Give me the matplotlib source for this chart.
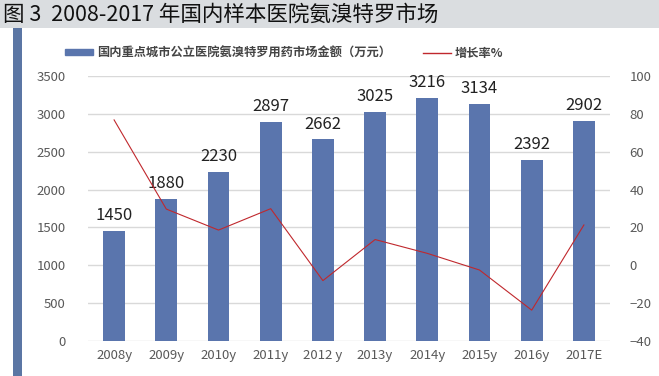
import matplotlib
matplotlib.use('Agg')
import matplotlib.pyplot as plt
import matplotlib.patches as mpatches
from matplotlib.lines import Line2D
import numpy as np

plt.rcParams['font.family'] = ['Noto Sans CJK SC', 'DejaVu Sans']

years = ['2008y', '2009y', '2010y', '2011y', '2012 y', '2013y', '2014y', '2015y', '2016y', '2017E']
market = [1450, 1880, 2230, 2897, 2662, 3025, 3216, 3134, 2392, 2902]
growth = [76.8, 29.7, 18.6, 29.9, -8.1, 13.6, 6.3, -2.5, -23.7, 21.3]

bar_color = '#5A75AD'
line_color = '#C0282D'
tick_color = '#595959'

fig = plt.figure(figsize=(6.59, 3.76), dpi=100)

# title band and left stripe
fig.patches.append(mpatches.Rectangle((0, 1 - 28/376), 1, 28/376, transform=fig.transFigure,
                                      facecolor='#DADDE0', edgecolor='none', zorder=0))
fig.patches.append(mpatches.Rectangle((13/659, 0), 9/659, 1 - 28/376, transform=fig.transFigure,
                                      facecolor='#5B76A4', edgecolor='none', zorder=0))
fig.text(3/659, 1 - 15/376, '图 3  2008-2017 年国内样本医院氨溴特罗市场', fontsize=15.5,
         va='center', ha='left', color='#111111')

ax = fig.add_axes([88/659, 1 - 341/376, 522/659, 265/376])
x = np.arange(len(years))
bars = ax.bar(x, market, width=0.42, color=bar_color, zorder=2)
for rect, v in zip(bars, market):
    ax.annotate(str(v), xy=(rect.get_x() + rect.get_width() / 2, v),
                xytext=(0, 5), textcoords='offset points',
                ha='center', va='bottom', fontsize=12, color='#222222')

ax.set_xlim(-0.5, len(years) - 0.5)
ax.set_ylim(0, 3500)
ax.set_yticks(np.arange(0, 3501, 500))
ax.grid(axis='y', color='#D9D9D9', linewidth=1, zorder=0)
ax.set_axisbelow(True)
for s in ax.spines.values():
    s.set_visible(False)
ax.tick_params(axis='both', length=0, labelsize=9.5, colors=tick_color)
ax.tick_params(axis='y', pad=16)
ax.set_xticks(x)
ax.set_xticklabels(years, fontstyle='italic')
ax.tick_params(axis='x', pad=6)

ax2 = ax.twinx()
ax2.plot(x, growth, color=line_color, linewidth=0.8, zorder=3)
ax2.set_ylim(-40, 100)
ax2.set_yticks(np.arange(-40, 101, 20))
for s in ax2.spines.values():
    s.set_visible(False)
ax2.tick_params(axis='y', length=0, labelsize=9.5, colors=tick_color, pad=14)

handles = [mpatches.Patch(color=bar_color), Line2D([0], [0], color=line_color, linewidth=1)]
labels = ['国内重点城市公立医院氨溴特罗用药市场金额（万元）', '增长率%']
fig.legend(handles, labels, loc='center left', bbox_to_anchor=(65/659, 1 - 53/376), ncol=2,
           frameon=False, handlelength=2.3, handleheight=0.45, handletextpad=0.3,
           columnspacing=2.6, borderpad=0, borderaxespad=0,
           prop={'weight': 'bold', 'size': 8.8}, labelcolor='#444444')

fig.savefig('out.png', dpi=100)
